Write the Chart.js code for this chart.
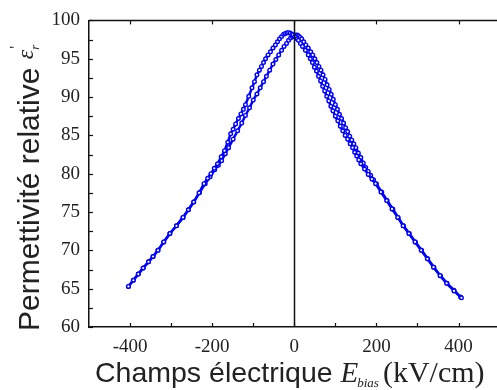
<!DOCTYPE html>
<html>
<head>
<meta charset="utf-8">
<script src="https://cdn.jsdelivr.net/npm/chart.js@4.4.1/dist/chart.umd.min.js"></script>
<style>
html,body{margin:0;padding:0;background:#fff;overflow:hidden;}
#wrap{width:505px;height:390px;position:relative;}
</style>
</head>
<body>
<div id="wrap"><canvas id="c" width="505" height="390"></canvas></div>
<script>
// Tick labels
const xTickValues = [-400, -200, 0, 200, 400];
const yTickValues = [60, 65, 70, 75, 80, 85, 90, 95, 100];

// Sweep 1 (peak at negative field)
const sweepAx = [-404,-392,-380,-368,-355,-344,-332,-318,-303,-287,-271,-258,-245,-232,-220,-211,-203,-195,-187,-178,-170,-162,-155,-149,-143,-136,-130,-124,-119,-111,-103,-97,-91,-85,-80,-75,-70,-64,-58,-52,-46,-41,-36,-31,-26,-22,-18,-14,-10,-6,-3,1,4,7,10,15,20,27,34,39,44,49,54,59,64,69,74,79,84,89,94,100,106,112,118,124,130,136,142,147,152,157,162,171,180,189,198,211,225,238,252,265,279,294,309,324,339,355,371,389,407];
const sweepAy = [65.3,66.1,66.9,67.7,68.5,69.2,70.0,71.1,72.2,73.2,74.3,75.3,76.3,77.5,78.7,79.4,80.0,80.7,81.3,82.2,83.0,84.1,85.2,85.8,86.5,87.2,87.8,88.4,89.0,90.1,91.2,92.0,92.9,93.5,94.0,94.5,95.0,95.5,95.9,96.4,96.8,97.2,97.6,97.9,98.2,98.3,98.4,98.4,98.35,98.2,98.1,97.9,97.8,97.6,97.4,97.0,96.6,96.1,95.5,95.0,94.5,93.9,93.4,92.7,92.1,91.4,90.8,90.1,89.5,88.8,88.2,87.5,86.9,86.2,85.6,85.0,84.5,83.9,83.4,82.8,82.3,81.8,81.3,80.6,79.9,79.3,78.7,77.6,76.5,75.4,74.3,73.2,72.2,71.1,70.0,68.9,67.8,66.7,65.7,64.7,63.8];

// Sweep 2 (peak at positive field)
const sweepBx = [-404,-392,-380,-368,-355,-344,-332,-318,-303,-287,-271,-258,-245,-231,-217,-205,-194,-185,-177,-168,-160,-149,-138,-128,-119,-109,-100,-91,-83,-75,-68,-60,-52,-45,-38,-31,-25,-19,-14,-9,-5,-1,3,7,10,14,18,23,28,34,40,45,50,55,60,65,70,75,80,85,90,95,100,105,110,115,120,125,130,135,140,145,150,156,162,168,174,180,186,193,200,213,226,240,253,266,280,295,310,325,340,356,372,389,405];
const sweepBy = [65.3,66.1,66.9,67.7,68.5,69.2,70.0,71.1,72.2,73.2,74.3,75.3,76.3,77.5,78.7,79.6,80.5,81.1,81.7,82.6,83.4,84.5,85.6,86.6,87.6,88.6,89.6,90.4,91.2,92.0,92.7,93.5,94.3,94.9,95.5,96.1,96.6,97.0,97.4,97.7,97.9,98.0,98.1,98.1,98.0,97.8,97.6,97.2,96.8,96.4,95.9,95.5,95.0,94.5,94.0,93.5,92.9,92.3,91.6,91.0,90.35,89.7,89.0,88.4,87.75,87.2,86.6,86.0,85.5,84.9,84.4,83.9,83.4,82.7,82.1,81.4,80.8,80.3,79.8,79.2,78.7,77.6,76.5,75.4,74.3,73.2,72.2,71.1,70.0,68.9,67.8,66.7,65.7,64.8,63.9];

const toPts = (xs, ys) => xs.map((x, i) => ({x: x, y: ys[i]}));
const blue = '#0000ff';

const overlay = {
  id: 'overlay',
  afterDatasetsDraw(chart) {
    const {ctx, chartArea: a, scales: {x, y}} = chart;
    ctx.save();
    ctx.strokeStyle = '#111';
    ctx.lineWidth = 1.5;
    // top frame line
    ctx.beginPath(); ctx.moveTo(a.left, a.top); ctx.lineTo(a.right + 5, a.top); ctx.stroke();
    // vertical zero line
    const x0 = Math.round(x.getPixelForValue(0)) + 0.5;
    ctx.beginPath(); ctx.moveTo(x0, a.top); ctx.lineTo(x0, a.bottom); ctx.stroke();
    ctx.lineWidth = 1.2;
    // left ticks (inward)
    for (let v = 60; v <= 100; v += 2.5) {
      const py = Math.round(y.getPixelForValue(v)) + 0.5;
      ctx.beginPath(); ctx.moveTo(a.left, py); ctx.lineTo(a.left + 4, py); ctx.stroke();
    }
    // bottom ticks (inward)
    for (let v = -400; v <= 400; v += 100) {
      const px = Math.round(x.getPixelForValue(v)) + 0.5;
      ctx.beginPath(); ctx.moveTo(px, a.bottom); ctx.lineTo(px, a.bottom - 4); ctx.stroke();
    }
    // top ticks (inward, major only)
    xTickValues.forEach(v => {
      const px = Math.round(x.getPixelForValue(v)) + 0.5;
      ctx.beginPath(); ctx.moveTo(px, a.top); ctx.lineTo(px, a.top + 4); ctx.stroke();
    });
    ctx.restore();
  },
  afterDraw(chart) {
    const {ctx} = chart;
    ctx.save();
    ctx.fillStyle = '#222';
    ctx.textBaseline = 'alphabetic';
    ctx.textAlign = 'left';
    // X title
    let cx = 95;
    const by = 382;
    ctx.font = '28.5px "Liberation Sans", Arial, sans-serif';
    const t1 = 'Champs électrique ';
    ctx.fillText(t1, cx, by); cx += ctx.measureText(t1).width;
    ctx.font = 'italic 29px "Liberation Serif", "Times New Roman", serif';
    ctx.fillText('E', cx, by); cx += ctx.measureText('E').width - 1;
    ctx.font = 'italic 13px "Liberation Serif", "Times New Roman", serif';
    ctx.fillText('bias', cx, by + 5); cx += ctx.measureText('bias').width + 4;
    ctx.font = '30px "Liberation Serif", "Times New Roman", serif';
    ctx.fillText('(kV/cm)', cx, by);
    // Y title (rotated)
    ctx.translate(38.5, 331);
    ctx.rotate(-Math.PI / 2);
    let tx = 0;
    ctx.font = '30px "Liberation Sans", Arial, sans-serif';
    const t2 = 'Permettivité relative ';
    ctx.fillText(t2, tx, 0); tx += ctx.measureText(t2).width;
    ctx.font = 'italic 24px "Liberation Serif", "Times New Roman", serif';
    ctx.fillText('ε', tx, -6); tx += ctx.measureText('ε').width;
    ctx.font = 'italic 13px "Liberation Serif", "Times New Roman", serif';
    ctx.fillText('r', tx, 0);
    ctx.font = '16px "Liberation Serif", "Times New Roman", serif';
    ctx.fillText('\'', tx + 1, -18);
    ctx.restore();
  }
};

new Chart(document.getElementById('c'), {
  type: 'scatter',
  data: {
    datasets: [
      {data: toPts(sweepAx, sweepAy), showLine: true, borderColor: blue, borderWidth: 2.5,
       pointRadius: 1.8, pointBorderWidth: 1.4, pointBackgroundColor: '#fff', pointBorderColor: blue},
      {data: toPts(sweepBx, sweepBy), showLine: true, borderColor: blue, borderWidth: 2.5,
       pointRadius: 1.8, pointBorderWidth: 1.4, pointBackgroundColor: '#fff', pointBorderColor: blue}
    ]
  },
  options: {
    responsive: false,
    animation: false,
    devicePixelRatio: 1,
    layout: {padding: {top: 19, right: 4, left: 0, bottom: 0}},
    plugins: {legend: {display: false}, tooltip: {enabled: false}},
    scales: {
      x: {
        type: 'linear', min: -500, max: 500,
        afterBuildTicks: s => { s.ticks = xTickValues.map(v => ({value: v})); },
        afterFit: s => { s.height = 63; },
        grid: {display: false, drawTicks: false},
        border: {display: true, color: '#111', width: 1.5},
        ticks: {padding: 9, color: '#222', font: {family: '"Liberation Serif", "Times New Roman", serif', size: 19}, maxRotation: 0}
      },
      y: {
        type: 'linear', min: 60, max: 100,
        afterBuildTicks: s => { s.ticks = yTickValues.map(v => ({value: v})); },
        afterFit: s => { s.width = 89; },
        grid: {display: false, drawTicks: false},
        border: {display: true, color: '#111', width: 1.5},
        ticks: {padding: 9, color: '#222', font: {family: '"Liberation Serif", "Times New Roman", serif', size: 19}}
      }
    }
  },
  plugins: [overlay]
});
</script>
</body>
</html>
